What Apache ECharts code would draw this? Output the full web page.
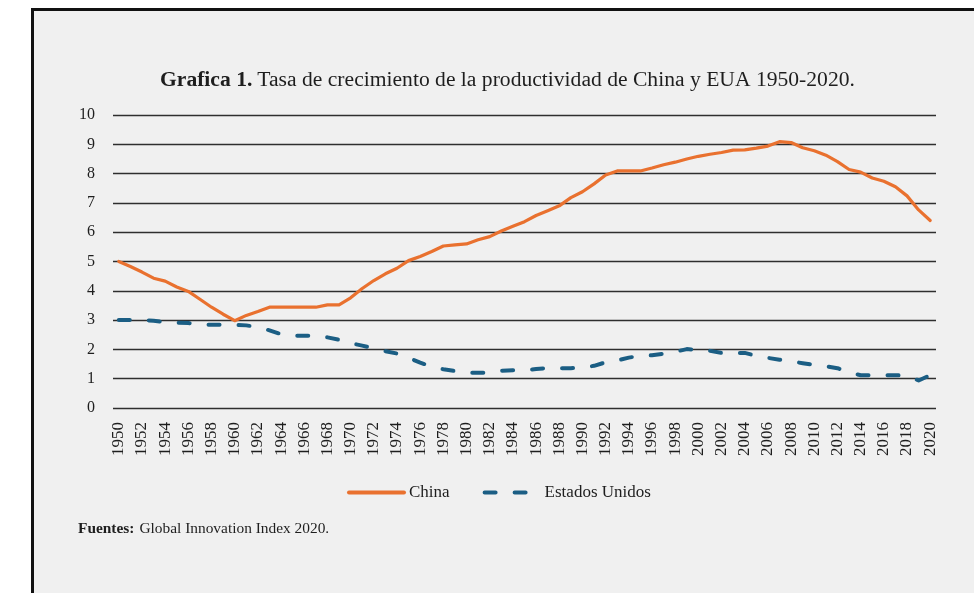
<!DOCTYPE html>
<html>
<head>
<meta charset="utf-8">
<script src="https://cdn.jsdelivr.net/npm/echarts@6/dist/echarts.min.js"></script>
<style>
html,body{margin:0;padding:0;background:#fff;}
#chart{width:974px;height:593px;}
</style>
</head>
<body>
<div id="chart"></div>
<script>
var years = [];
for (var y = 1950; y <= 2020; y++) { years.push(String(y)); }

var china = [
  5.00, 4.83, 4.64, 4.43, 4.33, 4.13, 3.98, 3.71, 3.44, 3.20,
  2.98, 3.16, 3.29, 3.44, 3.44, 3.44, 3.44, 3.44, 3.52, 3.52,
  3.76, 4.08, 4.35, 4.58, 4.77, 5.03, 5.17, 5.34, 5.53, 5.57,
  5.60, 5.74, 5.85, 6.04, 6.20, 6.36, 6.57, 6.73, 6.90, 7.18,
  7.38, 7.65, 7.95, 8.09, 8.09, 8.09, 8.19, 8.30, 8.39, 8.50,
  8.59, 8.66, 8.72, 8.80, 8.81, 8.87, 8.94, 9.09, 9.06, 8.88,
  8.78, 8.63, 8.41, 8.14, 8.05, 7.85, 7.74, 7.55, 7.24, 6.76,
  6.40
];

var usa = [
  3.00, 3.00, 3.00, 2.98, 2.93, 2.91, 2.90, 2.84, 2.84, 2.84,
  2.84, 2.82, 2.76, 2.65, 2.52, 2.47, 2.47, 2.47, 2.41, 2.33,
  2.21, 2.13, 2.04, 1.94, 1.86, 1.71, 1.55, 1.41, 1.32, 1.26,
  1.21, 1.20, 1.21, 1.27, 1.29, 1.29, 1.33, 1.36, 1.36, 1.36,
  1.38, 1.44, 1.56, 1.62, 1.72, 1.78, 1.80, 1.85, 1.92, 2.01,
  1.98, 1.95, 1.88, 1.88, 1.88, 1.78, 1.71, 1.65, 1.59, 1.53,
  1.47, 1.42, 1.36, 1.21, 1.12, 1.12, 1.12, 1.12, 1.10, 0.94,
  1.12
];

var yTicks = [0, 1, 2, 3, 4, 5, 6, 7, 8, 9, 10];
var seriesNames = ['China', 'Estados Unidos'];
var titleBold = 'Grafica 1.';
var titleRest = 'Tasa de crecimiento de la productividad de China y EUA 1950-2020.';
var sourceBold = 'Fuentes:';
var sourceRest = 'Global Innovation Index 2020.';

var serif = '"Liberation Serif", "DejaVu Serif", serif';
var txt = '#1e1e1e';

var chart = echarts.init(document.getElementById('chart'), null, {renderer: 'canvas'});
chart.setOption({
  backgroundColor: '#ffffff',
  animation: false,
  graphic: [{
    type: 'rect',
    z: -100,
    silent: true,
    shape: {x: 32.5, y: 9.5, width: 1000, height: 700},
    style: {fill: '#f0f0f0', stroke: '#111111', lineWidth: 3}
  }],
  title: [{
    text: '{b|' + titleBold + '} {n|' + titleRest + '}',
    left: 155,
    top: 64,
    textStyle: {
      rich: {
        b: {fontFamily: serif, fontSize: 21.6, fontWeight: 'bold', color: txt},
        n: {fontFamily: serif, fontSize: 21.6, fontWeight: 'normal', color: txt}
      }
    }
  }, {
    text: '{b|' + sourceBold + '} {n|' + sourceRest + '}',
    left: 73,
    top: 515,
    textStyle: {
      rich: {
        b: {fontFamily: serif, fontSize: 15.4, fontWeight: 'bold', color: txt},
        n: {fontFamily: serif, fontSize: 15.4, fontWeight: 'normal', color: txt}
      }
    }
  }],
  legend: {
    data: seriesNames,
    left: 342,
    top: 479,
    itemWidth: 55,
    itemHeight: 14,
    itemGap: 33,
    itemStyle: {opacity: 0},
    lineStyle: {width: 4, cap: 'round'},
    textStyle: {fontFamily: serif, fontSize: 17, color: txt}
  },
  grid: {left: 113, right: 38, top: 115, bottom: 185, containLabel: false},
  xAxis: {
    type: 'category',
    data: years,
    boundaryGap: true,
    axisLine: {show: false},
    axisTick: {show: false},
    axisLabel: {
      interval: 1,
      rotate: 90,
      margin: 14,
      fontFamily: serif,
      fontSize: 17,
      color: txt
    }
  },
  yAxis: {
    type: 'value',
    min: yTicks[0],
    max: yTicks[yTicks.length - 1],
    interval: 1,
    axisLine: {show: false},
    axisTick: {show: false},
    axisLabel: {margin: 18, fontFamily: serif, fontSize: 16, color: txt},
    splitLine: {lineStyle: {color: '#2e2e2e', width: 1.3}}
  },
  series: [{
    name: seriesNames[0],
    type: 'line',
    data: china,
    symbol: 'none',
    lineStyle: {color: '#E9712F', width: 3.2, cap: 'round', join: 'round'},
    itemStyle: {color: '#E9712F'}
  }, {
    name: seriesNames[1],
    type: 'line',
    data: usa,
    symbol: 'none',
    lineStyle: {color: '#1B5E84', width: 4, type: [11, 19], cap: 'round', join: 'round'},
    itemStyle: {color: '#1B5E84'}
  }]
});
</script>
</body>
</html>
